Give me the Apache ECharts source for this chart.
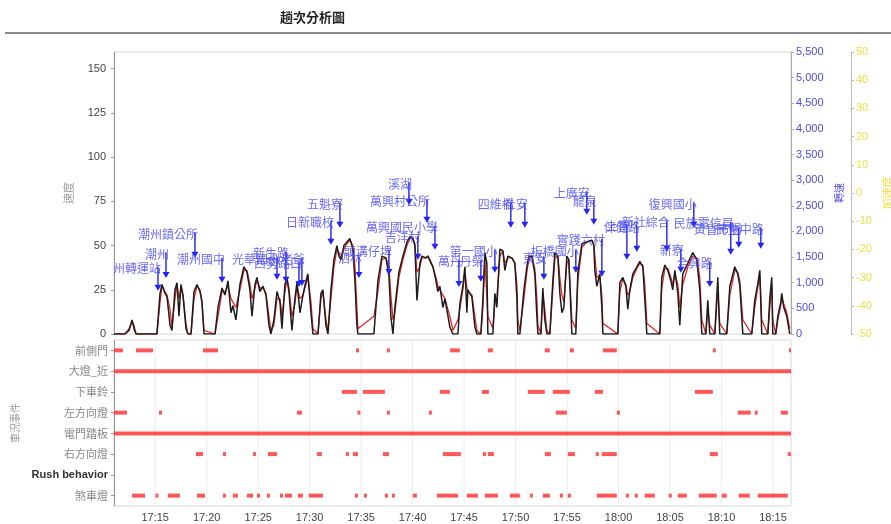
<!DOCTYPE html>
<html><head><meta charset="utf-8">
<script src="https://cdn.jsdelivr.net/npm/echarts@6/dist/echarts.min.js"></script>
<style>html,body{margin:0;padding:0;background:#fff}#c{width:891px;height:524px}</style>
</head><body><div id="c"></div>
<script>
// time in minutes after 17:00
const speedTime = [11.00,12.07,12.46,12.75,12.94,13.14,15.17,15.47,15.66,15.95,16.15,16.44,16.63,16.92,17.12,17.31,17.50,17.70,17.99,18.18,18.48,18.77,19.06,19.35,19.54,19.74,20.81,21.10,21.49,21.78,22.07,22.36,22.55,22.84,23.23,23.62,23.91,24.20,24.40,24.69,24.88,25.17,25.47,25.76,26.05,26.24,26.53,26.83,27.12,27.31,27.60,27.80,27.99,28.28,28.57,28.77,29.06,29.35,29.64,29.83,30.13,30.32,30.81,31.10,31.29,31.58,31.78,32.07,32.36,32.65,32.84,33.04,33.33,33.62,33.91,34.20,34.40,34.59,34.69,36.24,36.63,37.02,37.41,37.70,37.89,38.09,38.28,38.67,39.06,39.45,39.74,40.03,40.22,40.42,40.71,40.90,41.29,41.49,41.78,41.97,42.17,42.36,42.46,42.65,42.94,43.14,43.33,43.62,43.91,44.40,44.59,44.88,45.08,45.27,45.37,45.76,46.05,46.24,46.63,46.83,47.02,47.21,47.31,47.80,47.99,48.18,48.48,48.77,48.96,49.25,49.64,49.93,50.13,50.22,50.42,50.81,51.10,51.29,51.58,51.87,52.07,52.17,52.46,52.65,52.84,53.04,53.33,53.62,53.82,54.11,54.30,54.50,54.69,54.98,55.17,55.47,55.85,56.05,56.44,56.92,57.41,57.60,57.70,57.89,58.18,58.38,58.48,59.93,60.13,60.42,60.71,60.90,61.10,61.39,61.78,62.07,62.36,62.55,62.75,64.01,64.20,64.50,64.79,65.08,65.27,65.47,65.76,65.95,66.24,66.73,67.21,67.60,67.89,68.09,68.48,68.67,68.86,69.35,69.64,69.83,70.51,70.81,71.29,71.58,71.78,72.07,72.94,73.23,73.52,73.72,73.91,74.50,74.69,74.88,74.98,75.27,75.47,75.76,75.85,76.05,76.34,76.63];
const speedActual = [0,0,2,8,3,0, 0,23,28,23,21,5,2,25,29,10,28,22,3,0, 0,24,28,24,18,0, 0,15,26,22,30,12,16,8,28,38,35,25,10,28,32,24,27,22,5,0, 8,24,18,3,28,32,24,2,20,29,12,22,30,34,12,0, 0,23,25,5,0, 25,42,50,44,42,50,52,54,48,30,5,0, 0,30,44,43,33,10,0, 15,35,44,52,55,54,50,19,40,44,43,44,40,38,33,27,24,27,15,20,19,4,0, 0,17,27,38,12,25,21,4,0, 0,20,46,40,0, 0,23,15,48,47,36,44,43,40,20,0, 0,25,38,44,44,34,10,0, 0,26,8,0, 0,30,46,44,23,12,15,44,42,0, 0,35,51,52,53,50,36,27,34,15,0, 0,29,32,27,14,25,34,38,41,38,20,0, 0,32,39,36,30,25,36,23,5,34,40,46,42,25,0, 0,19,0, 0,32,0, 0,27,38,34,27,0, 0,19,28,36,0, 0,20,32,0, 0,10,18,23,15,10,0];
const speedGps = [0,0,3,7,5,0, 0,18,27,24,22,14,4,20,28,20,26,22,6,0, 0,20,27,25,19,2, 0,10,24,24,27,20,18,15,25,36,36,28,20,26,30,26,26,23,10,2, 5,20,20,10,24,30,26,10,17,27,20,22,28,32,18,3, 0,20,24,8,2, 20,38,48,46,43,48,51,53,50,38,15,3, 10,24,42,43,38,22,8, 12,32,42,50,54,54,51,35,38,43,43,44,41,38,34,30,27,27,22,20,20,10,2, 8,14,25,35,26,24,22,10,2, 0,15,42,42,10, 3,18,20,44,47,40,43,43,40,28,8, 2,20,35,42,44,37,20,5, 0,22,14,2, 0,25,43,44,32,22,18,40,42,8, 3,30,49,52,53,51,44,32,33,22,6, 0,24,31,28,22,24,32,37,40,39,28,6, 0,26,37,37,32,28,34,28,15,28,38,44,43,32,8, 0,14,5, 0,25,6, 0,22,36,35,30,8, 0,15,26,33,8, 0,15,28,8, 0,8,16,20,17,12,3];

const timeTicks = [15,20,25,30,35,40,45,50,55,60,65,70,75];
const speedTicks = [0,25,50,75,100,125,150];

const stationNames = ['潮州轉運站','潮州','潮州鎮公所','潮州國中','光華國小','新生路','西勢路口','八老爺','日新職校','五魁寮','泗林','頭溝仔埤','溪湖','萬興村公所','吉洋村','萬興國民小學','萬丹','丹榮','第一國小','四維橋','社安','東安','板橋國小','上廣安','龍泉','實踐六村','上智','保健路','新社綜合','新寮','復興國小','合興路','民族電信局','黃昏市場','民生中路'];
const stationTime = [15.27,16.05,18.86,21.49,26.83,27.70,28.96,29.25,32.07,32.94,34.79,37.70,39.64,41.39,40.51,42.17,44.50,46.63,47.99,49.54,50.90,52.75,55.85,56.92,57.60,58.38,60.81,61.78,64.69,66.05,67.31,68.86,70.90,71.68,73.82];
const stationLabelSpeed = [38.0,45.9,57.2,43.1,43.1,46.5,40.8,43.1,64.0,74.2,43.6,47.6,85.6,75.9,55.5,61.2,41.9,41.9,47.6,74.2,74.2,43.6,47.6,80.5,75.9,53.8,61.8,61.2,64.0,48.2,74.2,40.8,63.5,60.1,60.1];
const stationArrowSpeed = [24.4,31.7,43.1,28.9,30.6,28.9,26.6,27.2,50.4,60.1,31.7,33.4,73.1,62.9,41.9,47.6,26.6,29.5,34.6,60.1,60.1,30.6,34.6,67.4,61.8,32.3,41.9,46.5,46.5,34.6,60.1,26.6,44.8,48.7,48.2];

const eventNames = ['前側門','大燈_近','下車鈴','左方向燈','電門踏板','右方向燈','Rush behavior','煞車燈'];
const evFrontDoor = [[11.0,11.87],[13.14,14.79],[19.64,21.10],[34.50,34.62],[37.50,37.62],[43.62,44.59],[47.31,47.80],[52.84,53.33],[55.27,55.66],[58.48,59.83],[69.16,69.45],[76.55,76.70]];
const evHeadlight = [[11.0,76.75]];
const evBell = [[33.14,34.59],[35.17,37.31],[42.65,43.62],[46.73,47.41],[51.19,52.84],[53.62,55.27],[57.70,58.48],[67.41,69.16]];
const evLeftTurn = [[11.0,12.26],[15.37,15.66],[28.77,29.25],[34.64,34.74],[37.50,37.70],[41.58,41.78],[53.91,54.98],[59.83,60.13],[71.58,72.84],[73.23,73.52],[75.76,76.44]];
const evPedal = [[11.0,76.75]];
const evRightTurn = [[18.96,19.64],[21.58,21.78],[24.50,24.69],[25.95,26.83],[30.71,31.19],[33.52,33.72],[34.20,34.69],[37.12,37.70],[42.94,44.69],[46.83,47.12],[47.31,47.89],[52.84,53.43],[55.08,55.76],[57.79,57.99],[58.38,59.83],[68.86,69.64],[76.44,76.63]];
const evRush = [];
const evBrake = [[12.75,14.01],[15.03,15.13],[16.24,17.41],[19.06,19.84],[21.58,21.87],[22.55,23.04],[23.91,24.50],[24.88,24.98],[25.85,25.95],[27.12,27.31],[27.60,28.28],[28.86,29.35],[29.93,31.29],[34.40,34.69],[35.27,35.37],[37.31,37.60],[37.99,38.28],[40.03,40.42],[42.36,44.40],[45.27,46.34],[47.02,48.28],[49.45,50.42],[51.39,51.68],[52.65,53.33],[54.30,54.50],[55.08,55.27],[57.89,59.83],[60.71,60.90],[61.58,61.68],[62.55,63.52],[64.88,64.98],[65.76,66.63],[67.80,69.54],[70.03,70.51],[71.68,72.75],[73.52,76.44]];

const eventLists = [evFrontDoor, evHeadlight, evBell, evLeftTurn, evPedal, evRightTurn, evRush, evBrake];
const eventData = [];
eventLists.forEach((list, row) => list.forEach(iv => eventData.push([iv[0], iv[1], row])));

const fmtTime = v => { const h = 17 + Math.floor(v / 60); const m = Math.round(v % 60); return h + ':' + (m < 10 ? '0' : '') + m; };
const cjk = '"Noto Sans CJK TC", "Liberation Sans", sans-serif';
const latin = '"Liberation Sans", Arial, sans-serif';

const chart = echarts.init(document.getElementById('c'), null, {renderer: 'canvas'});
chart.setOption({
  animation: false,
  backgroundColor: '#fff',
  graphic: [
    {type: 'text', left: 280, top: 11, style: {text: '趟次分析圖', fontSize: 13, fontWeight: 'bold', fill: '#222', fontFamily: cjk}},
    {type: 'line', shape: {x1: 5, y1: 33, x2: 891, y2: 33}, style: {stroke: '#8a8a8a', lineWidth: 2}}
  ],
  grid: [
    {left: 114, right: 100, top: 52, height: 282, show: true, borderColor: '#d8d8d8', borderWidth: 1, outerBoundsMode: 'none', containLabel: false},
    {left: 114, right: 100, top: 340, height: 166, show: true, borderColor: '#d8d8d8', borderWidth: 1, outerBoundsMode: 'none', containLabel: false}
  ],
  xAxis: [
    {gridIndex: 0, type: 'value', min: 11, max: 76.75, axisLabel: {show: false}, axisTick: {show: false}, axisLine: {show: false}, splitLine: {show: false}},
    {gridIndex: 1, type: 'value', min: 11, max: 76.75,
     axisLabel: {customValues: timeTicks, formatter: fmtTime, color: '#444', fontSize: 11, fontFamily: latin, margin: 6},
     axisTick: {customValues: timeTicks, length: 3, lineStyle: {color: '#999'}},
     axisLine: {lineStyle: {color: '#999'}}, splitLine: {show: false}}
  ],
  yAxis: [
    {gridIndex: 0, type: 'value', position: 'left', min: 0, max: 159.4,
     axisLabel: {customValues: speedTicks, color: '#444', fontSize: 11, fontFamily: latin, margin: 8},
     axisTick: {show: true, customValues: speedTicks, length: 3, lineStyle: {color: '#999'}},
     axisLine: {show: true, lineStyle: {color: '#999'}}, splitLine: {show: false},
     name: '速度', nameLocation: 'middle', nameGap: 40, nameTextStyle: {color: '#999', fontSize: 11, fontFamily: cjk}},
    {gridIndex: 0, type: 'value', position: 'right', min: 0, max: 5500, interval: 500,
     axisLabel: {color: '#4b4be6', fontSize: 11, fontFamily: latin, margin: 5, formatter: v => v.toLocaleString('en-US')},
     axisTick: {show: true, length: 3, lineStyle: {color: '#aaa'}},
     axisLine: {show: true, lineStyle: {color: '#aaa'}}, splitLine: {show: false},
     name: '轉速', nameLocation: 'middle', nameGap: 43, nameTextStyle: {color: '#4b4be6', fontSize: 10, fontFamily: cjk}},
    {gridIndex: 0, type: 'value', position: 'right', offset: 60, min: -50, max: 50, interval: 10,
     axisLabel: {color: '#ece048', fontSize: 11, fontFamily: latin, margin: 5},
     axisTick: {show: true, length: 3, lineStyle: {color: '#bbb'}},
     axisLine: {show: true, lineStyle: {color: '#bbb'}}, splitLine: {show: false},
     name: '加速度', nameLocation: 'middle', nameGap: 27, nameTextStyle: {color: '#ece048', fontSize: 11, fontFamily: cjk}},
    {gridIndex: 1, type: 'category', inverse: true, data: eventNames,
     axisLabel: {color: '#888', fontSize: 11, fontFamily: cjk, margin: 6,
       formatter: v => v === 'Rush behavior' ? '{b|' + v + '}' : v,
       rich: {b: {fontWeight: 'bold', color: '#333', fontSize: 11, fontFamily: latin}}},
     axisTick: {show: true, alignWithLabel: true, length: 3, lineStyle: {color: '#999'}},
     axisLine: {show: true, lineStyle: {color: '#999'}}, splitLine: {show: false},
     name: '車況事件', nameLocation: 'middle', nameGap: 84, nameTextStyle: {color: '#999', fontSize: 10, fontFamily: cjk}}
  ],
  series: [
    {type: 'custom', name: '格線', xAxisIndex: 1, yAxisIndex: 3, z: 1, silent: true,
     data: timeTicks.map(t => [t, 0]),
     encode: {x: 0, y: 1},
     renderItem: (params, api) => {
       const p = api.coord([api.value(0), 0]);
       const cs = params.coordSys;
       return {type: 'line', shape: {x1: p[0], y1: cs.y, x2: p[0], y2: cs.y + cs.height}, style: {stroke: '#ececec', lineWidth: 1}};
     }},
    {type: 'line', name: 'GPS速度', xAxisIndex: 0, yAxisIndex: 0, showSymbol: false, z: 2,
     data: speedTime.map((t, i) => [t, speedGps[i]]), lineStyle: {color: '#e22a2a', width: 1.3}},
    {type: 'line', name: '車速', xAxisIndex: 0, yAxisIndex: 0, showSymbol: false, z: 3,
     data: speedTime.map((t, i) => [t, speedActual[i]]), lineStyle: {color: '#1c1c1c', width: 1.5}},
    {type: 'custom', name: '站點', xAxisIndex: 0, yAxisIndex: 0, clip: true, z: 5,
     encode: {x: 0, y: [1, 2]},
     data: stationTime.map((t, i) => [t, stationLabelSpeed[i], stationArrowSpeed[i]]),
     renderItem: (params, api) => {
       const p1 = api.coord([api.value(0), api.value(1)]);
       const p2 = api.coord([api.value(0), api.value(2)]);
       return {type: 'group', children: [
         {type: 'line', shape: {x1: p1[0], y1: p1[1], x2: p2[0], y2: p2[1] - 5}, style: {stroke: '#2f2ff5', lineWidth: 1.5}},
         {type: 'polygon', shape: {points: [[p2[0] - 3.5, p2[1] - 6], [p2[0] + 3.5, p2[1] - 6], [p2[0], p2[1]]]}, style: {fill: '#2323f5'}},
         {type: 'text', x: p1[0] + 3, y: p1[1] + 2, style: {text: stationNames[params.dataIndex], align: 'right', verticalAlign: 'middle', fill: 'rgba(70,70,240,0.8)', fontSize: 12, fontFamily: cjk}}
       ]};
     }},
    {type: 'custom', name: '事件', xAxisIndex: 1, yAxisIndex: 3, clip: true, z: 3,
     encode: {x: [0, 1], y: 2},
     data: eventData,
     renderItem: (params, api) => {
       const s = api.coord([api.value(0), api.value(2)]);
       const e = api.coord([api.value(1), api.value(2)]);
       const w = Math.max(e[0] - s[0], 3);
       return {type: 'rect', shape: {x: s[0], y: s[1] - 2, width: w, height: 4}, style: {fill: 'rgba(255,45,45,0.8)'}};
     }}
  ]
});
</script>
</body></html>
